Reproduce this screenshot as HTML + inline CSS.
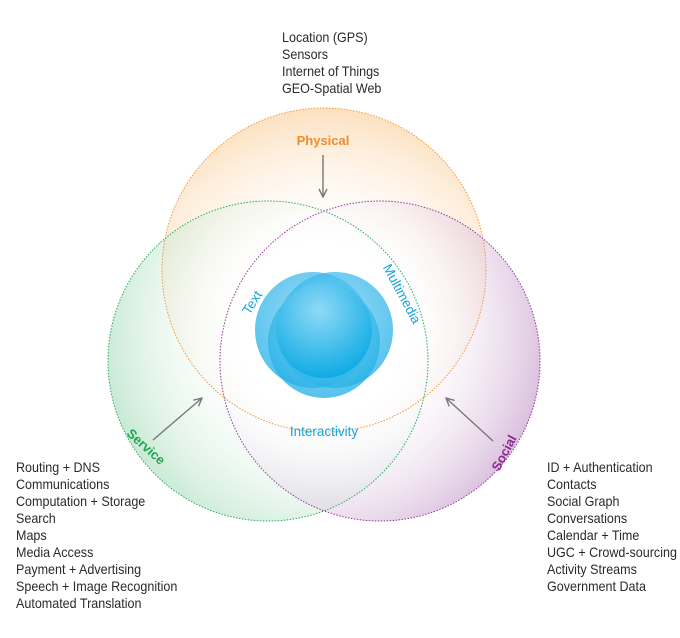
<!DOCTYPE html>
<html><head><meta charset="utf-8"><style>
html,body{margin:0;padding:0;background:#fff;}
svg{display:block;}
.t{font-family:"Liberation Sans",sans-serif;font-size:13.5px;fill:#2a2a2a;}
.lb{font-family:"Liberation Sans",sans-serif;font-weight:bold;font-size:13px;}
.bl{font-family:"Liberation Sans",sans-serif;font-size:13.5px;fill:#14a3dc;}
</style></head><body>
<svg width="680" height="638" viewBox="0 0 680 638" xmlns="http://www.w3.org/2000/svg">
<defs>
<radialGradient id="gp" cx="324" cy="330" r="250" gradientUnits="userSpaceOnUse">
<stop offset="0.3" stop-color="#fff" stop-opacity="0"/><stop offset="1" stop-color="#fbd3a4"/></radialGradient>
<radialGradient id="gs" cx="330" cy="330" r="280" gradientUnits="userSpaceOnUse">
<stop offset="0.3" stop-color="#fff" stop-opacity="0"/><stop offset="1" stop-color="#8ed3a8"/></radialGradient>
<radialGradient id="gc" cx="318" cy="330" r="280" gradientUnits="userSpaceOnUse">
<stop offset="0.3" stop-color="#fff" stop-opacity="0"/><stop offset="1" stop-color="#b57fbb"/></radialGradient>
<radialGradient id="gb" cx="0.5" cy="0.4" r="0.6">
<stop offset="0" stop-color="#7fd2f4"/><stop offset="1" stop-color="#1eaee6"/></radialGradient>
<radialGradient id="gb2" cx="0.45" cy="0.3" r="0.75">
<stop offset="0" stop-color="#8fd9f7"/><stop offset="1" stop-color="#06a8e3"/></radialGradient>
<marker id="ar" viewBox="0 0 10 10" refX="9" refY="5" markerWidth="10" markerHeight="10" orient="auto" markerUnits="userSpaceOnUse">
<path d="M1,1 L9,5 L1,9" fill="none" stroke="#777" stroke-width="1.4"/></marker>
</defs>
<circle cx="324" cy="270" r="162" fill="url(#gp)"/>
<circle cx="268" cy="361" r="160" fill="url(#gs)" opacity="0.9"/>
<circle cx="380" cy="361" r="160" fill="url(#gc)" opacity="0.9"/>
<circle cx="324" cy="270" r="162" fill="none" stroke="#f39a3c" stroke-width="1" stroke-dasharray="1.5 1.5"/>
<circle cx="268" cy="361" r="160" fill="none" stroke="#2aab5c" stroke-width="1" stroke-dasharray="1.5 1.5"/>
<circle cx="380" cy="361" r="160" fill="none" stroke="#8e3a96" stroke-width="1" stroke-dasharray="1.5 1.5"/>
<g>
<circle cx="313" cy="330" r="58" fill="url(#gb)" opacity="0.75"/>
<circle cx="335" cy="330" r="58" fill="url(#gb)" opacity="0.75"/>
<circle cx="324" cy="342" r="56" fill="url(#gb)" opacity="0.75"/>
</g>
<circle cx="324" cy="330" r="48" fill="url(#gb2)"/>
<line x1="323" y1="155" x2="323" y2="197" stroke="#777" stroke-width="1.4" marker-end="url(#ar)"/>
<line x1="153" y1="440" x2="202" y2="398" stroke="#777" stroke-width="1.4" marker-end="url(#ar)"/>
<line x1="493" y1="441" x2="446" y2="398" stroke="#777" stroke-width="1.4" marker-end="url(#ar)"/>
<text class="lb" x="323" y="145" text-anchor="middle" fill="#f28c28">Physical</text>
<text class="lb" transform="translate(143,450) rotate(42)" text-anchor="middle" fill="#1ea552">Service</text>
<text class="lb" transform="translate(508,455) rotate(-62)" text-anchor="middle" fill="#8a2b8f">Social</text>
<text class="bl" transform="translate(256,305) rotate(-58)" text-anchor="middle">Text</text>
<text class="bl" transform="translate(398,296) rotate(62)" text-anchor="middle">Multimedia</text>
<text class="bl" x="324" y="436" text-anchor="middle">Interactivity</text>
<g transform="translate(282,0) scale(0.93,1)" class="t">
<text x="0" y="42">Location (GPS)</text><text x="0" y="59">Sensors</text>
<text x="0" y="76">Internet of Things</text><text x="0" y="93">GEO-Spatial Web</text></g>
<g transform="translate(16,0) scale(0.93,1)" class="t">
<text x="0" y="472">Routing + DNS</text><text x="0" y="489">Communications</text>
<text x="0" y="506">Computation + Storage</text><text x="0" y="523">Search</text>
<text x="0" y="540">Maps</text><text x="0" y="557">Media Access</text>
<text x="0" y="574">Payment + Advertising</text><text x="0" y="591">Speech + Image Recognition</text>
<text x="0" y="608">Automated Translation</text></g>
<g transform="translate(547,0) scale(0.93,1)" class="t">
<text x="0" y="472">ID + Authentication</text><text x="0" y="489">Contacts</text>
<text x="0" y="506">Social Graph</text><text x="0" y="523">Conversations</text>
<text x="0" y="540">Calendar + Time</text><text x="0" y="557">UGC + Crowd-sourcing</text>
<text x="0" y="574">Activity Streams</text><text x="0" y="591">Government Data</text></g>
</svg>
</body></html>
